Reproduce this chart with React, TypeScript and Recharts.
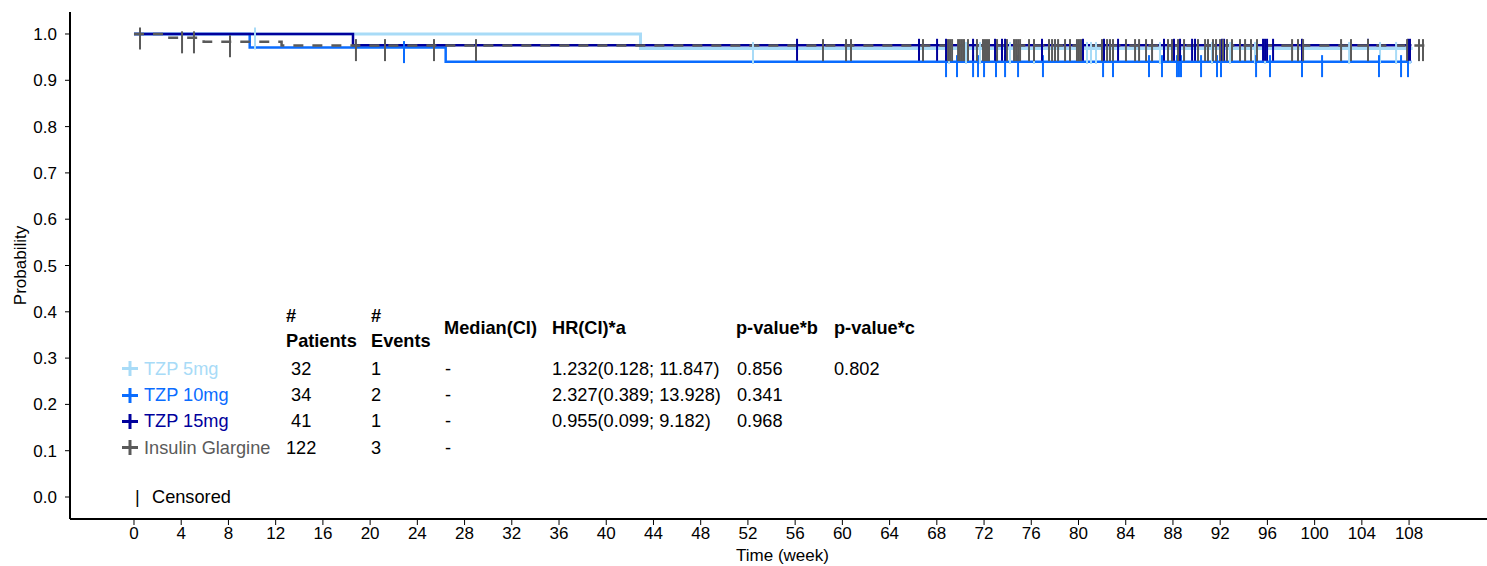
import { ComposedChart, Line, Scatter, XAxis, YAxis } from "recharts";

// x ticks (weeks) and y ticks (probability)
const xTicks = [0, 4, 8, 12, 16, 20, 24, 28, 32, 36, 40, 44, 48, 52, 56, 60, 64, 68, 72, 76, 80, 84, 88, 92, 96, 100, 104, 108];
const yTicks = [0, 0.1, 0.2, 0.3, 0.4, 0.5, 0.6, 0.7, 0.8, 0.9, 1.0];

// KM step curves: times where the curve changes, and survival from that time on
const tzp5Times = [0, 42.9, 108.3];
const tzp5Surv = [1, 0.9688, 0.9688];
const tzp10Times = [0, 9.8, 26.4, 108.2];
const tzp10Surv = [1, 0.9706, 0.9403, 0.9403];
const tzp15Times = [0, 18.55, 108.2];
const tzp15Surv = [1, 0.9756, 0.9756];
const igTimes = [0, 3.0, 5.9, 12.5, 109.4];
const igSurv = [1, 0.9917, 0.9833, 0.9749, 0.9749];

// censored times (weeks)
const tzp5Censor = [10.25, 52.43, 69.03, 70.47, 71.66, 74.2, 76.23, 80.72, 81.06, 81.48, 86.9, 91.31, 92.83, 94.95, 95.8, 102.92, 105.54, 106.9, 108.08];
const tzp10Censor = [22.87, 68.78, 69.71, 71.07, 71.49, 72.0, 73.01, 73.78, 74.88, 76.99, 82.08, 82.92, 85.97, 87.07, 88.34, 88.51, 88.68, 90.38, 91.73, 92.07, 95.04, 96.22, 98.93, 100.63, 105.45, 107.32, 107.91];
const tzp15Censor = [56.16, 66.49, 68.02, 68.78, 71.07, 72.93, 73.52, 73.78, 76.91, 80.38, 82.16, 83.35, 87.24, 88.09, 88.6, 89.62, 89.87, 92.16, 92.33, 95.63, 95.8, 95.97, 96.48, 98.93, 104.52, 107.91, 108.08];
const igCensor = [0.51, 4.07, 5.08, 8.13, 18.8, 21.26, 25.41, 28.97, 58.36, 60.31, 60.73, 66.83, 68.95, 69.12, 69.29, 69.8, 69.96, 70.13, 70.3, 70.64, 71.4, 71.91, 72.08, 72.25, 72.42, 73.1, 73.94, 74.54, 74.71, 74.88, 75.05, 75.81, 76.23, 77.5, 77.76, 78.01, 78.27, 78.86, 79.28, 79.87, 80.04, 80.21, 81.99, 82.42, 82.67, 82.92, 84.02, 84.79, 85.13, 85.72, 86.23, 87.58, 87.92, 88.43, 88.94, 90.12, 90.72, 90.97, 91.39, 91.65, 91.99, 92.24, 92.58, 93.0, 93.68, 94.11, 94.61, 95.12, 98.09, 98.59, 99.02, 102.24, 103.08, 104.52, 107.83, 108.84, 109.18];

// table
const groupNames = ["TZP 5mg", "TZP 10mg", "TZP 15mg", "Insulin Glargine"];
const patients = [" 32", " 34", " 41", "122"];
const events = ["1", "2", "1", "3"];
const medians = ["-", "-", "-", "-"];
const hrs = ["1.232(0.128; 11.847)", "2.327(0.389; 13.928)", "0.955(0.099; 9.182)", ""];
const pValB = ["0.856", "0.341", "0.968", ""];
const pValC = ["0.802", "", "", ""];

const colors = ["#a8dbf7", "#0a6cff", "#00009c", "#5a5a5a"];

const FONT = "'Liberation Sans', Arial, Helvetica, sans-serif";

function stepData(times: number[], surv: number[]) {
  return times.map((t, i) => ({ t, s: surv[i] }));
}

function censorData(times: number[], stepT: number[], stepS: number[]) {
  return times.map((t) => {
    let s = stepS[0];
    for (let i = 0; i < stepT.length; i++) if (stepT[i] <= t) s = stepS[i];
    return { t, s };
  });
}

const curves = [
  { name: groupNames[0], color: colors[0], width: 3, dash: undefined, line: stepData(tzp5Times, tzp5Surv), cens: censorData(tzp5Censor, tzp5Times, tzp5Surv) },
  { name: groupNames[1], color: colors[1], width: 2.5, dash: undefined, line: stepData(tzp10Times, tzp10Surv), cens: censorData(tzp10Censor, tzp10Times, tzp10Surv) },
  { name: groupNames[2], color: colors[2], width: 2.5, dash: undefined, line: stepData(tzp15Times, tzp15Surv), cens: censorData(tzp15Censor, tzp15Times, tzp15Surv) },
  { name: groupNames[3], color: colors[3], width: 2.5, dash: "10 9", line: stepData(igTimes, igSurv), cens: censorData(igCensor, igTimes, igSurv) },
];

const rowY = [368.5, 395, 421, 447.5];

function T({ x, y, children, color = "#000", bold = false }: { x: number; y: number; children: any; color?: string; bold?: boolean }) {
  return (
    <div
      style={{
        position: "absolute",
        left: x,
        top: y - 10,
        fontSize: 18.2,
        lineHeight: "20px",
        whiteSpace: "pre",
        color,
        fontWeight: bold ? "bold" : "normal",
      }}
    >
      {children}
    </div>
  );
}

export default function App() {
  return (
    <div style={{ position: "absolute", left: 0, top: 0, width: 1487, height: 566, fontFamily: FONT, background: "#fff" }}>
      <ComposedChart width={1487} height={566} margin={{ top: 12, right: 0, bottom: 0, left: 0 }}>
        <XAxis
          type="number"
          dataKey="t"
          domain={[-5.42, 114.6]}
          allowDataOverflow
          ticks={xTicks}
          interval={0}
          height={47}
          axisLine={{ stroke: "#000", strokeWidth: 2 }}
          tickLine={{ stroke: "#000" }}
          tickSize={6}
          tickMargin={2}
          tick={{ fill: "#000", fontSize: 17, fontFamily: FONT }}
          label={{ value: "Time (week)", position: "insideBottom", offset: 5, dx: 4, fill: "#000", fontSize: 17, fontFamily: FONT }}
        />
        <YAxis
          type="number"
          dataKey="s"
          domain={[-0.0475, 1.0475]}
          allowDataOverflow
          ticks={yTicks}
          interval={0}
          width={70}
          tickFormatter={(v: number) => v.toFixed(1)}
          axisLine={{ stroke: "#000", strokeWidth: 2 }}
          tickLine={{ stroke: "#000" }}
          tickSize={5}
          tickMargin={8}
          tick={{ fill: "#000", fontSize: 17, fontFamily: FONT }}
          label={{ value: "Probability", angle: -90, position: "insideLeft", offset: 20, fill: "#000", fontSize: 17, fontFamily: FONT, style: { textAnchor: "middle" } }}
        />
        {curves.map((c) => (
          <Line
            key={"l" + c.name}
            data={c.line}
            dataKey="s"
            type="stepAfter"
            stroke={c.color}
            strokeWidth={c.width}
            strokeDasharray={c.dash}
            dot={false}
            activeDot={false}
            isAnimationActive={false}
          />
        ))}
        {curves.map((c) => (
          <Scatter
            key={"c" + c.name}
            data={c.cens}
            dataKey="s"
            isAnimationActive={false}
            shape={(p: any) => (
              <line x1={p.cx} x2={p.cx} y1={p.cy - 6.5} y2={p.cy + 15.5} stroke={c.color} strokeWidth={2} />
            )}
          />
        ))}
      </ComposedChart>

      {/* table header */}
      <T x={286} y={316} bold>#</T>
      <T x={286} y={341} bold>Patients</T>
      <T x={371} y={316} bold>#</T>
      <T x={371} y={341} bold>Events</T>
      <T x={444} y={328} bold>Median(CI)</T>
      <T x={552} y={328} bold>HR(CI)*a</T>
      <T x={736} y={328} bold>p-value*b</T>
      <T x={834} y={328} bold>p-value*c</T>

      {groupNames.map((g, i) => (
        <div key={g}>
          <svg style={{ position: "absolute", left: 122, top: rowY[i] - 7.5 }} width={16} height={15}>
            <line x1={0} x2={16} y1={7.5} y2={7.5} stroke={colors[i]} strokeWidth={3} />
            <line x1={8} x2={8} y1={0} y2={15} stroke={colors[i]} strokeWidth={3} />
          </svg>
          <T x={144} y={rowY[i]} color={colors[i]}>{g}</T>
          <T x={286} y={rowY[i]}>{patients[i]}</T>
          <T x={371} y={rowY[i]}>{events[i]}</T>
          <T x={445} y={rowY[i]}>{medians[i]}</T>
          <T x={552} y={rowY[i]}>{hrs[i]}</T>
          <T x={737} y={rowY[i]}>{pValB[i]}</T>
          <T x={834} y={rowY[i]}>{pValC[i]}</T>
        </div>
      ))}

      <T x={135} y={497}>|</T>
      <T x={152} y={497}>Censored</T>
    </div>
  );
}
